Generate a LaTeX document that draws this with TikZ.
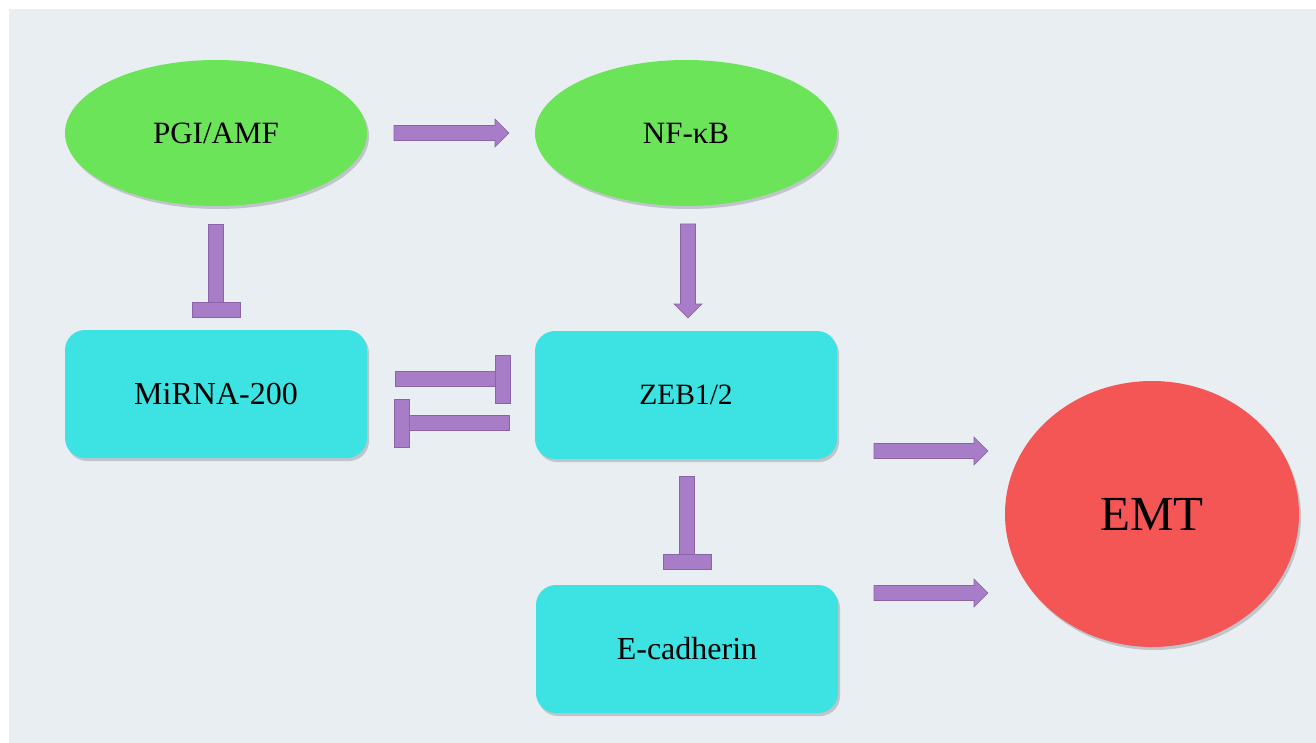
\documentclass[tikz,border=0pt]{standalone}
\usepackage{fontspec}
\setmainfont{Liberation Serif}
\usetikzlibrary{shapes.geometric,shadows}
\definecolor{bgc}{HTML}{E9EEF3}
\definecolor{grn}{HTML}{6CE459}
\definecolor{cyn}{HTML}{3DE2E3}
\definecolor{rd}{HTML}{F45656}
\definecolor{pur}{HTML}{A77DC8}
\definecolor{purd}{HTML}{8A63A8}
\tikzset{
  shade/.style={drop shadow={shadow xshift=2pt,shadow yshift=-3pt,opacity=0.25,fill=black!70}},
  oval/.style={ellipse,fill=grn,minimum width=302pt,minimum height=146pt,inner sep=0pt,shade,font=\fontsize{31}{37}\selectfont},
  rbox/.style={rectangle,rounded corners=20pt,fill=cyn,minimum width=302pt,minimum height=128pt,inner sep=0pt,shade,font=\fontsize{32}{38}\selectfont},
  emt/.style={ellipse,fill=rd,minimum width=294pt,minimum height=266pt,inner sep=0pt,shade,font=\fontsize{49}{56}\selectfont},
  arr/.style={fill=pur,draw=purd,line width=0.6pt,line join=miter},
}
% rightward block arrow: x1, x2, y
\newcommand\hArrow[3]{\filldraw[arr] (#1,#3-7.5) -- (#2-14,#3-7.5) -- (#2-14,#3-14) -- (#2,#3) -- (#2-14,#3+14) -- (#2-14,#3+7.5) -- (#1,#3+7.5) -- cycle;}
% downward block arrow: x, y1, y2
\newcommand\vArrow[3]{\filldraw[arr] (#1-7.5,#2) -- (#1-7.5,#3-14) -- (#1-14,#3-14) -- (#1,#3) -- (#1+14,#3-14) -- (#1+7.5,#3-14) -- (#1+7.5,#2) -- cycle;}
% downward inhibition: x, y1, y2 (bar below y2)
\newcommand\vInh[3]{\filldraw[arr] (#1-7.5,#2) rectangle (#1+7.5,#3); \filldraw[arr] (#1-24,#3) rectangle (#1+24,#3+15);}
% rightward inhibition: x1, x2, y
\newcommand\rInh[3]{\filldraw[arr] (#1,#3-7.5) rectangle (#2,#3+7.5); \filldraw[arr] (#2,#3-24) rectangle (#2+15,#3+24);}
% leftward inhibition: x1 (bar), x2, y
\newcommand\lInh[3]{\filldraw[arr] (#1+15,#3-7.5) rectangle (#2,#3+7.5); \filldraw[arr] (#1,#3-24) rectangle (#1+15,#3+24);}
\begin{document}
\begin{tikzpicture}[x=1pt,y=-1pt]
\useasboundingbox (0,0) rectangle (1316,743);
\fill[white] (0,0) rectangle (1316,743);
\fill[bgc] (9,9) rectangle (1316,743);

\node[oval] (pgi) at (216,133) {PGI/AMF};
\node[oval] (nfkb) at (686,133) {NF-κB};
\node[rbox] (mir) at (216,394) {MiRNA-200};
\node[rbox,font=\fontsize{29.5}{35}\selectfont] (zeb) at (686,395) {ZEB1/2};
\node[rbox] (ecad) at (687,649) {E-cadherin};
\node[emt] (emtn) at (1152,514) {EMT};

% PGI/AMF -> NF-kB
\hArrow{394}{509}{133}
% PGI/AMF -| MiRNA-200
\vInh{216}{224}{302}
% NF-kB -> ZEB1/2
\vArrow{688}{224}{318}
% MiRNA-200 -| ZEB1/2
\rInh{395}{495}{379}
% ZEB1/2 -| MiRNA-200
\lInh{394}{509}{423}
% ZEB1/2 -| E-cadherin
\vInh{687}{476}{554}
% ZEB1/2 -> EMT
\hArrow{874}{988}{451}
% E-cadherin -> EMT
\hArrow{874}{988}{593}
\end{tikzpicture}
\end{document}
